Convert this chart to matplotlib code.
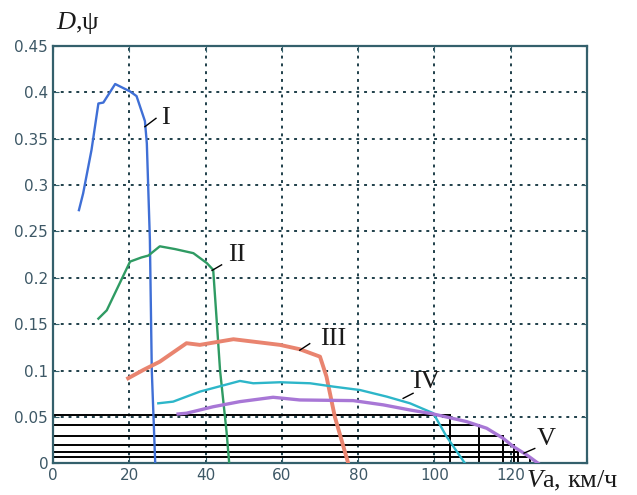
import matplotlib
matplotlib.use('Agg')
import matplotlib.pyplot as plt
import numpy as np

plt.rcParams['mathtext.fontset'] = 'custom'
plt.rcParams['mathtext.rm'] = 'Liberation Serif'
plt.rcParams['mathtext.it'] = 'Liberation Serif:italic'

# curve I
v1 = [6.8, 7.9, 10.1, 11.9, 13.2, 16.3, 20.2, 21.9, 24.1, 24.6, 25.4, 25.9, 26.8]
d1 = [0.273, 0.291, 0.338, 0.388, 0.389, 0.409, 0.401, 0.396, 0.369, 0.345, 0.241, 0.100, 0.0]
# curve II
v2 = [11.9, 14.1, 20.2, 23.2, 25.0, 28.0, 32.0, 36.8, 40.3, 42.0, 42.9, 43.8, 45.5, 46.2]
d2 = [0.156, 0.165, 0.2175, 0.222, 0.224, 0.234, 0.231, 0.2266, 0.216, 0.2086, 0.155, 0.100, 0.034, 0.0]
# curve III
v3 = [19.7, 23.7, 28.0, 35.0, 38.5, 47.3, 59.5, 64.7, 70.0, 71.7, 73.9, 77.4]
d3 = [0.0917, 0.1007, 0.1096, 0.1295, 0.1277, 0.1338, 0.1277, 0.123, 0.115, 0.0935, 0.050, 0.0]
# curve IV
v4 = [27.6, 31.5, 38.5, 49.0, 52.5, 59.5, 67.4, 73.5, 80.5, 87.5, 93.6, 99.7, 103.2, 108.0]
d4 = [0.0647, 0.0665, 0.0773, 0.0888, 0.0863, 0.0874, 0.0863, 0.0827, 0.079, 0.0719, 0.0647, 0.054, 0.0287, 0.0]
# curve V
v5 = [32.8, 35.0, 42.0, 49.0, 57.7, 64.7, 78.7, 86.6, 93.6, 99.7, 108.4, 113.7, 118.0, 120.7, 124.2, 127.2]
d5 = [0.0532, 0.054, 0.061, 0.0665, 0.0712, 0.0683, 0.0676, 0.063, 0.0575, 0.0532, 0.045, 0.0378, 0.027, 0.018, 0.009, 0.0]

# staircase of gear shift lines
step_v = [104.1, 111.7, 118.0, 120.8, 121.9, 125.0]
step_d = [0.052, 0.041, 0.029, 0.020, 0.0125, 0.007]

labels = ['I', 'II', 'III', 'IV', 'V']
label_xy = [(29.4, 0.372), (48.2, 0.225), (73.5, 0.134), (97.9, 0.0875), (129.2, 0.0262)]
leaders = [((24.1, 0.363), (27.0, 0.372)),
           ((41.7, 0.208), (44.2, 0.214)),
           ((64.7, 0.122), (67.3, 0.129)),
           ((91.8, 0.070), (94.4, 0.0755)),
           ((123.5, 0.011), (126.3, 0.016))]

frame_col = '#34606c'
tick_col = '#3d5866'

fig = plt.figure(figsize=(6.37, 4.95), dpi=100)
ax = fig.add_axes([53/637, 1 - 463.3/495, 534/637, 417.3/495])

for x, y in zip(step_v, step_d):
    ax.plot([0, x], [y, y], color='black', lw=1.4, zorder=2)
    ax.plot([x, x], [0, y], color='black', lw=1.4, zorder=2)

ax.plot(v1, d1, color='#3f6fd6', lw=1.7, zorder=3)
ax.plot(v2, d2, color='#2f9b63', lw=1.7, zorder=3)
ax.plot(v3, d3, color='#e9846f', lw=2.8, zorder=3)
ax.plot(v4, d4, color='#2db6c9', lw=1.7, zorder=3)
ax.plot(v5, d5, color='#a877d6', lw=2.4, zorder=3)

for lab, (tx, ty), (p0, p1) in zip(labels, label_xy, leaders):
    ax.plot([p0[0], p1[0]], [p0[1], p1[1]], color='black', lw=1.0, zorder=4)
    ax.text(tx, ty, lab, family='Liberation Serif', fontsize=19,
            ha='center', va='center', color='#1a1a1a', zorder=5)

ax.set_xlim(0, 140)
ax.set_ylim(0, 0.45)
xt = np.arange(0, 141, 20)
ax.set_xticks(xt)
ax.set_xticklabels([str(v) for v in xt[:-1]] + [''])
yt = np.arange(0, 0.451, 0.05)
ax.set_yticks(yt)
ax.set_yticklabels(['%g' % round(v, 2) for v in yt])
ax.grid(True, color='#1f3f4a', linestyle=(0, (1.5, 2.5)), lw=1.4, zorder=1)
ax.tick_params(direction='in', length=4, color=frame_col, labelcolor=tick_col,
               labelsize=11, top=True, right=True)
for s in ax.spines.values():
    s.set_color(frame_col)
    s.set_linewidth(1.6)

fig.text(56/637, 1 - 29/495, r'$D$,ψ', family='Liberation Serif', fontsize=19,
         ha='left', va='baseline', color='#1a1a1a')
fig.text(526/637, 1 - 487/495, r'$V$a, км/ч', family='Liberation Serif', fontsize=19,
         ha='left', va='baseline', color='#1a1a1a')

fig.savefig('out.png', dpi=100)
